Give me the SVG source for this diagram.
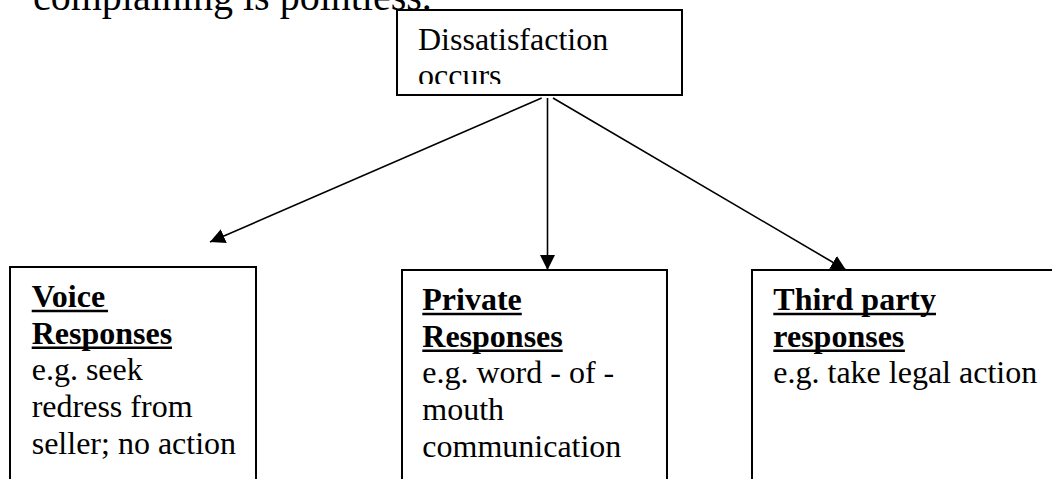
<svg xmlns="http://www.w3.org/2000/svg" width="1052" height="479" viewBox="0 0 1052 479">
  <style>
    .box { fill: #ffffff; stroke: #000000; stroke-width: 2; }
    .t { font-family: "Liberation Serif", "Times New Roman", serif; font-size: 32px; fill: #000000; }
    .b { font-weight: bold; }
    .hdr { font-family: "Liberation Serif", "Times New Roman", serif; font-size: 40px; fill: #000000; }
    .ul { stroke: #000000; stroke-width: 2.5; }
    .conn { stroke: #000000; stroke-width: 1.6; fill: none; marker-end: url(#arrow); }
  </style>
  <defs>
    <marker id="arrow" markerUnits="userSpaceOnUse" markerWidth="15" markerHeight="15" refX="15" refY="7.5" orient="auto">
      <path d="M0,0 L15,7.5 L0,15 Z" fill="#000000"/>
    </marker>
    <clipPath id="clipTop">
      <rect x="397" y="10" width="285" height="74"/>
    </clipPath>
  </defs>
  <rect width="1052" height="479" fill="#ffffff"/>

  <text class="hdr" x="33" y="10">complaining is pointless.</text>

  <g id="connectors">
    <line class="conn" x1="541.7" y1="98" x2="210" y2="242"/>
    <line class="conn" x1="547.5" y1="98" x2="547.5" y2="270"/>
    <line class="conn" x1="553" y1="98" x2="846" y2="270"/>
  </g>

  <g id="dissatisfaction">
    <rect class="box" x="397" y="10" width="285" height="85"/>
    <g clip-path="url(#clipTop)">
      <text class="t" x="418" y="50">Dissatisfaction</text>
      <text class="t" x="418" y="86">occurs</text>
    </g>
  </g>

  <g id="voice">
    <rect class="box" x="10" y="267" width="246" height="230"/>
    <text class="t b" x="31.7" y="307">Voice</text>
    <line class="ul" x1="31.7" y1="311" x2="108" y2="311"/>
    <text class="t b" x="31.7" y="343.7">Responses</text>
    <line class="ul" x1="31.7" y1="347.7" x2="172" y2="347.7"/>
    <text class="t" x="31.7" y="380.4">e.g. seek</text>
    <text class="t" x="31.7" y="417">redress from</text>
    <text class="t" x="31.7" y="453.7">seller; no action</text>
  </g>

  <g id="private">
    <rect class="box" x="402" y="270" width="265" height="230"/>
    <text class="t b" x="422.3" y="310">Private</text>
    <line class="ul" x1="422.3" y1="314" x2="521.8" y2="314"/>
    <text class="t b" x="422.3" y="346.7">Responses</text>
    <line class="ul" x1="422.3" y1="350.7" x2="562.7" y2="350.7"/>
    <text class="t" x="422.3" y="383.3">e.g. word - of -</text>
    <text class="t" x="422.3" y="420">mouth</text>
    <text class="t" x="422.3" y="456.7">communication</text>
  </g>

  <g id="third-party">
    <rect class="box" x="752" y="270" width="330" height="230"/>
    <text class="t b" x="773.3" y="310">Third party</text>
    <line class="ul" x1="773.3" y1="314" x2="936" y2="314"/>
    <text class="t b" x="773.3" y="346.7">responses</text>
    <line class="ul" x1="773.3" y1="350.7" x2="904.9" y2="350.7"/>
    <text class="t" x="773.3" y="383.3">e.g. take legal action</text>
  </g>
</svg>
